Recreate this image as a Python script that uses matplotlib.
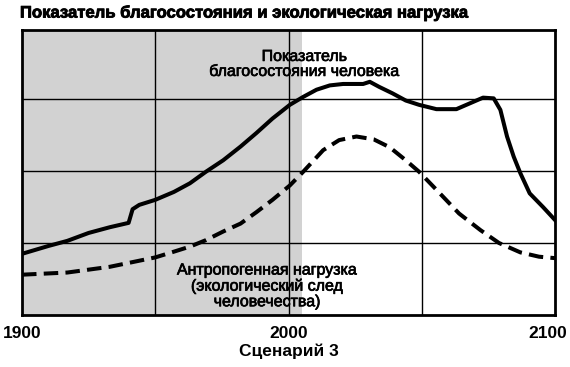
import matplotlib.pyplot as plt
import matplotlib.patheffects as pe
from matplotlib.transforms import ScaledTranslation

plt.rcParams['font.family'] = ['Liberation Sans', 'DejaVu Sans']

# Welfare index (solid) and ecological footprint (dashed), Scenario 3
years_w = [1900, 1910, 1917, 1925, 1933, 1940, 1941.5, 1944, 1950, 1957, 1963,
           1969, 1975.5, 1982, 1988, 1994, 2000.5, 2005.5, 2010.5, 2015.5,
           2020.5, 2028, 2030.5, 2034, 2039, 2044, 2049, 2055.5, 2060.5, 2063,
           2068, 2073, 2077, 2079.5, 2082, 2084.5, 2087, 2090.5, 2095.5, 2100]
welfare = [0.85, 0.96, 1.03, 1.14, 1.22, 1.28, 1.47, 1.53, 1.60, 1.71, 1.83,
           1.99, 2.15, 2.34, 2.53, 2.73, 2.92, 3.03, 3.13, 3.19,
           3.21, 3.21, 3.24, 3.17, 3.08, 2.98, 2.92, 2.86, 2.86, 2.86,
           2.94, 3.02, 3.01, 2.85, 2.48, 2.20, 1.97, 1.69, 1.50, 1.32]

years_f = [1900, 1917, 1933, 1950, 1957, 1963, 1969, 1975.5, 1982, 1988, 1994,
           2000.5, 2005.5, 2013, 2019, 2025.5, 2032, 2038, 2044, 2049, 2055.5,
           2064, 2072, 2079, 2087, 2094, 2100]
footprint = [0.56, 0.59, 0.67, 0.80, 0.88, 0.95, 1.04, 1.16, 1.27, 1.43, 1.60,
             1.80, 1.99, 2.29, 2.43, 2.48, 2.44, 2.33, 2.15, 1.99, 1.74,
             1.41, 1.18, 1.00, 0.87, 0.81, 0.79]

xticks = [1900, 2000, 2100]
title = 'Показатель благосостояния и экологическая нагрузка'
xlabel = 'Сценарий 3'

fig = plt.figure(figsize=(5.7, 3.67), dpi=100)
ax = fig.add_axes([0.0386, 0.1417, 0.9351, 0.7766])

# shaded past period
ax.axvspan(1900, 2005, color='#d2d2d2', lw=0, zorder=0)

# grid
for gx in [1950, 2000, 2050]:
    ax.axvline(gx, color='black', lw=1.0, zorder=1)
for gy in [1, 2, 3]:
    ax.axhline(gy, color='black', lw=1.0, zorder=1)

ax.plot(years_w, welfare, color='black', lw=2.9, solid_joinstyle='round', zorder=3)
ax.plot(years_f, footprint, color='black', lw=2.9, dashes=(3.6, 1.8), zorder=3)

ax.set_xlim(1900, 2100)
ax.set_ylim(0, 3.96)
ax.set_yticks([])
ax.set_xticks(xticks)
ax.set_xticklabels([str(t) for t in xticks], fontsize=12.5, fontweight='bold')
ax.tick_params(axis='x', length=0, pad=8)
labels = ax.get_xticklabels()
labels[-1].set_transform(labels[-1].get_transform() + ScaledTranslation(-0.07, 0, fig.dpi_scale_trans))
ax.set_xlabel(xlabel, fontsize=12.5, fontweight='bold', labelpad=2)
for s in ax.spines.values():
    s.set_linewidth(2)

# slightly heavier text, like the printed original
heavy = [pe.withStroke(linewidth=0.5, foreground='black')]
ax.text(2006, 3.28, 'Показатель\nблагосостояния человека', ha='center', va='bottom',
        fontsize=11.5, linespacing=1.0, zorder=4, path_effects=heavy)
ax.text(1992, 0.08, 'Антропогенная нагрузка\n(экологический след\nчеловечества)',
        ha='center', va='bottom', fontsize=11.5, linespacing=1.05, zorder=4,
        path_effects=heavy)

fig.text(0.035, 0.965, title, ha='left', va='center', fontsize=12, fontweight='bold',
         path_effects=[pe.withStroke(linewidth=0.6, foreground='black')])

fig.savefig('out.png', dpi=100)
